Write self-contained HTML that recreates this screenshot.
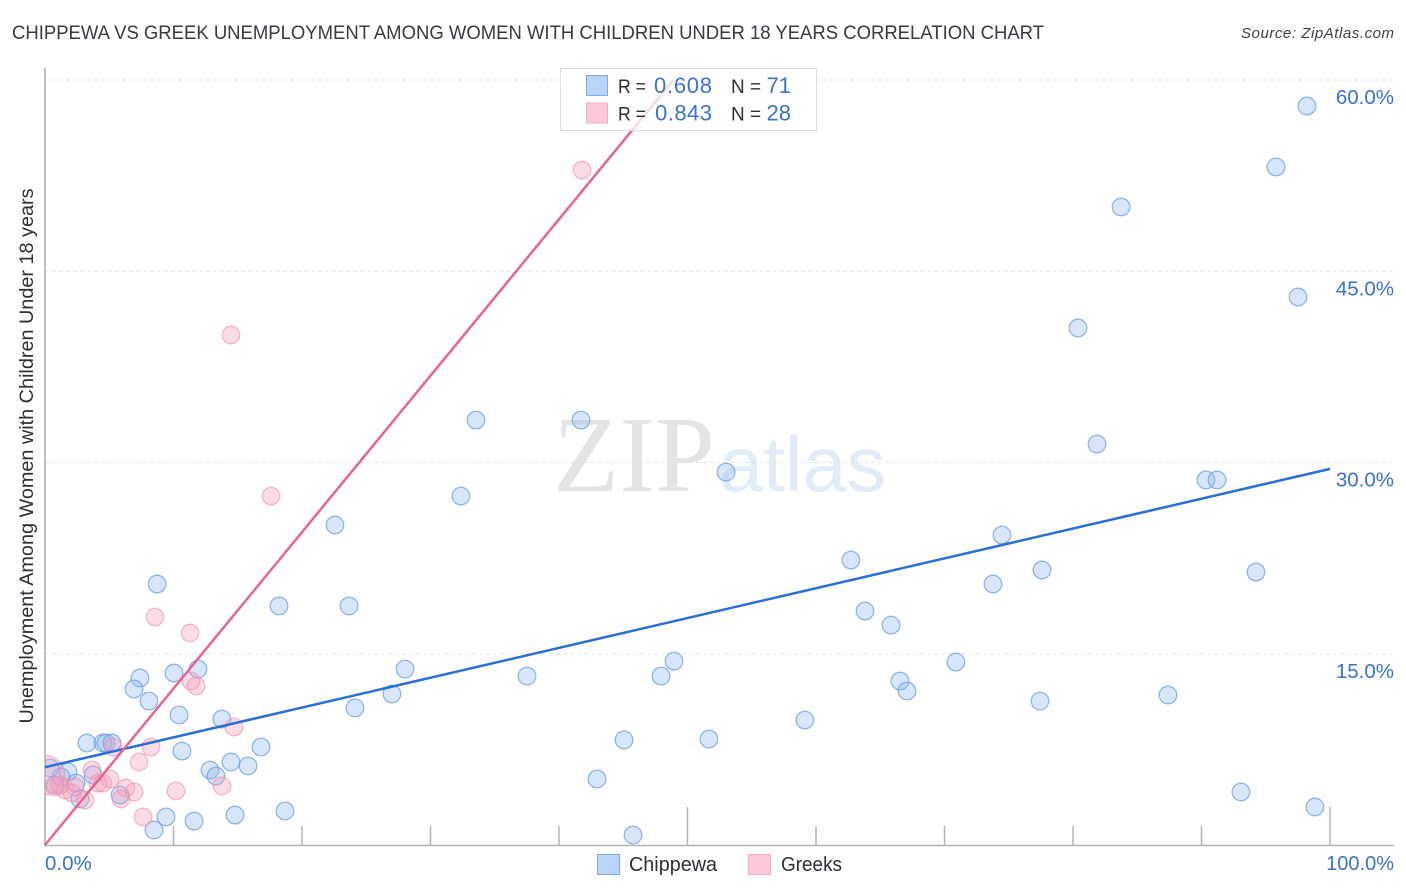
<!DOCTYPE html>
<html lang="en">
<head>
<meta charset="utf-8">
<title>Chippewa vs Greek Unemployment Correlation Chart</title>
<style>
html,body{margin:0;padding:0;background:#fff;}
svg{display:block;font-family:"Liberation Sans",sans-serif;}
</style>
</head>
<body>
<svg id="chart" width="1406" height="892" viewBox="0 0 1406 892" xmlns="http://www.w3.org/2000/svg">
  <text x="12" y="39" font-size="19.5" fill="#363a42" textLength="1032" lengthAdjust="spacingAndGlyphs">CHIPPEWA VS GREEK UNEMPLOYMENT AMONG WOMEN WITH CHILDREN UNDER 18 YEARS CORRELATION CHART</text>
  <text x="1241" y="38" font-size="15" font-style="italic" fill="#3a3f47" textLength="153" lengthAdjust="spacing">Source: ZipAtlas.com</text>
  <text x="553" y="491" font-family="'Liberation Serif',serif" font-size="108" fill="#e4e4e4" textLength="162" lengthAdjust="spacingAndGlyphs">ZIP</text>
  <text x="719" y="491" font-size="78" fill="#e2ebf8" textLength="167" lengthAdjust="spacingAndGlyphs">atlas</text>
  <g id="grid"></g>
  <g id="axes"></g>
  <text transform="translate(33,456) rotate(-90)" font-size="19" fill="#2b2f36" text-anchor="middle" textLength="535" lengthAdjust="spacingAndGlyphs">Unemployment Among Women with Children Under 18 years</text>
  <g id="points"></g>
  <g id="lines"></g>
  <g>
    <rect x="560.5" y="68.5" width="256" height="62" fill="#fff" fill-opacity="0.75" stroke="#dcdcdc" stroke-width="1"></rect>
    <rect x="586.5" y="75.5" width="21" height="20" fill="#b9d4f7" stroke="#7fabe6" stroke-width="1"></rect>
    <rect x="586.5" y="103" width="21" height="20" fill="#fcc9da" stroke="#f5aac4" stroke-width="1"></rect>
    <text x="618" y="93" font-size="19.5" fill="#2b2f36" textLength="28" lengthAdjust="spacingAndGlyphs">R =</text>
    <text x="654" y="93" font-size="22" fill="#3a72d0" textLength="58" lengthAdjust="spacing">0.608</text>
    <text x="731" y="93" font-size="19.5" fill="#2b2f36" textLength="30" lengthAdjust="spacingAndGlyphs">N =</text>
    <text x="791" y="93" font-size="22" fill="#3a72d0" text-anchor="end">71</text>
    <text x="618" y="120.5" font-size="19.5" fill="#2b2f36" textLength="28" lengthAdjust="spacingAndGlyphs">R =</text>
    <text x="655" y="120.5" font-size="22" fill="#3a72d0" textLength="57" lengthAdjust="spacing">0.843</text>
    <text x="731" y="120.5" font-size="19.5" fill="#2b2f36" textLength="30" lengthAdjust="spacingAndGlyphs">N =</text>
    <text x="791" y="120.5" font-size="22" fill="#3a72d0" text-anchor="end">28</text>
  </g>
  <g>
    <rect x="597.5" y="854.5" width="22" height="20" fill="#b9d4f7" stroke="#7fabe6" stroke-width="1"></rect>
    <text x="629" y="871" font-size="20" fill="#2b2f36" textLength="88" lengthAdjust="spacingAndGlyphs">Chippewa</text>
    <rect x="748.5" y="854.5" width="22" height="20" fill="#fcc9da" stroke="#f5aac4" stroke-width="1"></rect>
    <text x="781" y="871" font-size="20" fill="#2b2f36" textLength="61" lengthAdjust="spacingAndGlyphs">Greeks</text>
  </g>
  <defs>
    <clipPath id="plot-clip"><rect x="45" y="60" width="1349" height="785"></rect></clipPath>
  </defs>
</svg>
<script>
const yTickValues = [15, 30, 45, 60];
const yTickLabels = ["15.0%", "30.0%", "45.0%", "60.0%"];
const xTickValues = [10, 20, 30, 40, 50, 60, 70, 80, 90, 100];
const xTickMajor = [50, 100];
const xEndLabels = ["0.0%", "100.0%"];

const chippewaX = [98.21,95.80,83.74,97.51,80.39,33.54,41.71,81.87,53.00,90.35,91.21,32.37,22.57,74.47,62.72,77.59,94.24,73.77,8.72,18.21,23.66,63.81,65.84,28.02,11.91,10.04,7.39,37.51,47.94,48.95,70.89,6.93,27.00,8.09,66.54,67.08,87.39,77.43,24.12,10.43,13.77,59.14,3.27,4.51,4.75,5.21,45.06,51.67,16.81,10.66,14.47,15.80,12.84,13.31,42.96,3.74,1.79,0.39,1.25,0.78,2.41,2.72,5.84,93.07,98.83,18.68,14.79,9.42,11.60,8.48,45.76];
const chippewaY = [57.96,53.18,50.04,42.98,40.55,33.33,33.33,31.45,29.25,28.63,28.63,27.37,25.10,24.31,22.35,21.57,21.41,20.47,20.47,18.75,18.75,18.35,17.25,13.80,13.80,13.49,13.10,13.25,13.25,14.43,14.35,12.24,11.84,11.29,12.86,12.08,11.76,11.29,10.75,10.20,9.88,9.80,8.00,8.00,8.00,8.00,8.24,8.31,7.69,7.37,6.51,6.20,5.88,5.41,5.18,5.49,5.73,6.04,5.33,4.71,4.86,3.61,3.92,4.16,2.98,2.67,2.35,2.20,1.88,1.18,0.78];

const greeksX = [41.79,14.47,17.59,8.56,11.28,11.36,11.75,14.71,8.25,7.32,3.66,5.06,4.12,6.30,6.93,5.91,10.19,13.77,7.63,3.11,0,0.78,1.56,2.10,2.33,5.29,4.50,1.17];
const greeksY = [52.94,40.00,27.37,17.88,16.63,12.86,12.47,9.25,7.69,6.51,5.88,5.18,4.86,4.47,4.16,3.61,4.24,4.63,2.20,3.53,5.49,4.55,4.31,4.08,4.55,7.69,4.86,4.71];
const greeksWeight = [1,1,1,1,1,1,1,1,1,1,1,1,1,1,1,1,1,1,1,1,5,1,1,1,1,1,1,1];

const chippewaTrendX = [0, 100];
const chippewaTrendY = [6.1, 29.5];
const greeksTrendX = [0, 48.9];
const greeksTrendY = [0, 60];

const NS = "http://www.w3.org/2000/svg";
const xScale = v => 45 + v * 12.85;
const yScale = v => 845 - v * 12.75;

function make(tag, attrs, parent, text) {
  const el = document.createElementNS(NS, tag);
  for (const k in attrs) el.setAttribute(k, attrs[k]);
  if (text !== undefined) el.textContent = text;
  parent.appendChild(el);
  return el;
}

const gridG = document.getElementById("grid");
const axesG = document.getElementById("axes");
const pointsG = document.getElementById("points");
const linesG = document.getElementById("lines");
pointsG.setAttribute("clip-path", "url(#plot-clip)");

yTickValues.forEach((v, i) => {
  const g = make("line", {x1: 45, x2: 1394, y1: yScale(v), y2: yScale(v), stroke: "#e2e2e2", "stroke-width": 1, "stroke-dasharray": "4 3"}, gridG);
  
  
  const t = make("text", {x: 1394, y: yScale(v) + 24, "font-size": 20.5, fill: "#3a72d0", "text-anchor": "end"}, axesG, yTickLabels[i]);
  
  
});

const yAxis = make("line", {x1: 45, x2: 45, y1: 68, y2: 846, stroke: "#a8a8a8", "stroke-width": 1.5}, axesG);


const xAxis = make("line", {x1: 44, x2: 1394, y1: 845.5, y2: 845.5, stroke: "#b4b4b4", "stroke-width": 1.5}, axesG);



xTickValues.forEach(v => {
  const top = xTickMajor.includes(v) ? 807 : 826;
  const tk = make("line", {x1: xScale(v), x2: xScale(v), y1: top, y2: 845, stroke: "#b4b4b4", "stroke-width": 1.5}, axesG);
  
  
});

const xl0 = make("text", {x: 45, y: 870, "font-size": 20.5, fill: "#3a72d0"}, axesG, xEndLabels[0]);


const xl1 = make("text", {x: 1394, y: 870, "font-size": 20, fill: "#3a72d0", "text-anchor": "end"}, axesG, xEndLabels[1]);



chippewaX.forEach((v, i) => {
  const c = make("circle", {cx: xScale(v), cy: yScale(chippewaY[i]), r: 8.8, fill: "#8db8f0", "fill-opacity": 0.35, stroke: "#6d9fe2", "stroke-opacity": 0.75, "stroke-width": 1.3}, pointsG);
  
  
});

greeksX.forEach((v, i) => {
  const c = make("circle", {cx: xScale(v), cy: yScale(greeksY[i]), r: 8.8 * Math.sqrt(greeksWeight[i]), fill: "#f59bb9", "fill-opacity": 0.36, stroke: "#ee8fae", "stroke-opacity": 0.6, "stroke-width": 1.3}, pointsG);
  
  
});

const blueLine = make("line", {x1: xScale(chippewaTrendX[0]), y1: yScale(chippewaTrendY[0]), x2: xScale(chippewaTrendX[1]), y2: yScale(chippewaTrendY[1]), stroke: "#2a6fd6", "stroke-width": 2.5}, linesG);


const pinkLine = make("line", {x1: xScale(greeksTrendX[0]), y1: yScale(greeksTrendY[0]), x2: xScale(greeksTrendX[1]), y2: yScale(greeksTrendY[1]), stroke: "#e8648f", "stroke-width": 2.5}, linesG);


</script>
</body>
</html>
